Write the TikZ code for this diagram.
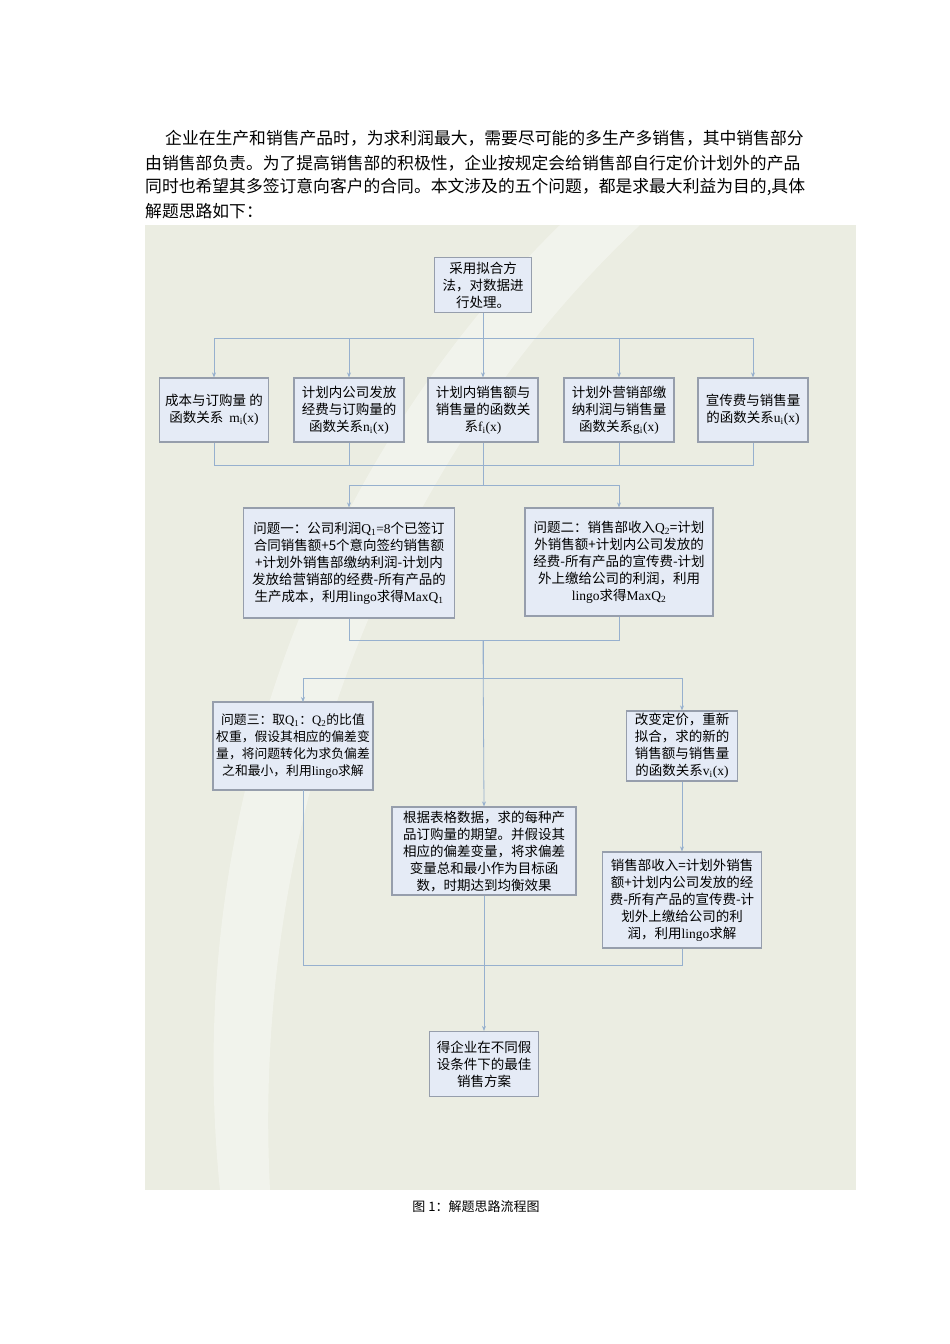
\documentclass[tikz,border=0pt]{standalone}
\usepackage{fontspec}
\setmainfont{Noto Sans CJK SC}
\newfontfamily\lat{Liberation Serif}
\begin{document}
\begin{tikzpicture}[x=1pt,y=-1pt,
 bx/.style={draw=boxline,fill=boxfill,line width=1.2pt,align=center,inner sep=0pt,font=\fontsize{13.5}{17}\selectfont},
 ln/.style={draw=lncol,line width=0.8pt},
 ar/.style={ln,-{Stealth[length=5pt,width=4pt]}},
 para/.style={anchor=west,inner sep=0pt,font=\fontsize{16.8}{20}\selectfont}]
\usetikzlibrary{arrows.meta}
\definecolor{boxfill}{RGB}{229,235,246}
\definecolor{boxline}{RGB}{150,158,172}
\definecolor{lncol}{RGB}{150,176,206}
\definecolor{bg}{RGB}{235,237,226}
\useasboundingbox (0,0) rectangle (950,1344);
\fill[white] (0,0) rectangle (950,1344);
\fill[bg] (145,225) rectangle (856,1190);
\fill[white,opacity=0.35] (560,225) .. controls (330,450) and (180,800) .. (220,1190) -- (270,1190) .. controls (250,800) and (400,450) .. (640,225) -- cycle;
\node[para] (p1) at (165,138) {企业在生产和销售产品时，为求利润最大，需要尽可能的多生产多销售，其中销售部分};
\node[para] (p2) at (145,163) {由销售部负责。为了提高销售部的积极性，企业按规定会给销售部自行定价计划外的产品};
\node[para] (p3) at (145,187) {同时也希望其多签订意向客户的合同。本文涉及的五个问题，都是求最大利益为目的,具体};
\node[para] (p4) at (145,211) {解题思路如下：};
\node[font=\fontsize{13}{16}\selectfont] (cap) at (476,1207) {图 1：解题思路流程图};

\node[bx,minimum width=97,minimum height=55] (top) at (483,285) {采用拟合方\\法，对数据进\\行处理。};
\node[bx,minimum width=109,minimum height=64] (b1) at (214,410) {成本与订购量 的\\函数关系 \ {\lat m\textsubscript{i}(x)}};
\node[bx,minimum width=110,minimum height=64] (b2) at (349,410) {计划内公司发放\\经费与订购量的\\函数关系{\lat n\textsubscript{i}(x)}};
\node[bx,minimum width=110,minimum height=64] (b3) at (483,410) {计划内销售额与\\销售量的函数关\\系{\lat f\textsubscript{i}(x)}};
\node[bx,minimum width=110,minimum height=64] (b4) at (619,410) {计划外营销部缴\\纳利润与销售量\\函数关系{\lat g\textsubscript{i}(x)}};
\node[bx,minimum width=110,minimum height=64] (b5) at (753,410) {宣传费与销售量\\的函数关系{\lat u\textsubscript{i}(x)}};
\node[bx,minimum width=211,minimum height=110] (q1) at (349,563) {问题一：公司利润{\lat Q\textsubscript{1}=8}个已签订\\合同销售额+5个意向签约销售额\\+计划外销售部缴纳利润-计划内\\发放给营销部的经费-所有产品的\\生产成本，利用{\lat lingo}求得{\lat MaxQ\textsubscript{1}}};
\node[bx,minimum width=188,minimum height=108] (q2) at (619,562) {问题二：销售部收入{\lat Q\textsubscript{2}}=计划\\外销售额+计划内公司发放的\\经费-所有产品的宣传费-计划\\外上缴给公司的利润，利用\\{\lat lingo}求得{\lat MaxQ\textsubscript{2}}};
\node[bx,minimum width=160,minimum height=88,font=\fontsize{12.8}{17}\selectfont] (q3) at (293,746) {问题三：取{\lat Q\textsubscript{1}}：{\lat Q\textsubscript{2}}的比值\\权重，假设其相应的偏差变\\量，将问题转化为求负偏差\\之和最小，利用{\lat lingo}求解};
\node[bx,minimum width=184,minimum height=88] (mid) at (484,851) {根据表格数据，求的每种产\\品订购量的期望。并假设其\\相应的偏差变量，将求偏差\\变量总和最小作为目标函\\数，时期达到均衡效果};
\node[bx,minimum width=111,minimum height=70] (v) at (682,746) {改变定价，重新\\拟合，求的新的\\销售额与销售量\\的函数关系{\lat v\textsubscript{i}(x)}};
\node[bx,minimum width=159,minimum height=96] (s) at (682,900) {销售部收入=计划外销售\\额+计划内公司发放的经\\费-所有产品的宣传费-计\\划外上缴给公司的利\\润，利用{\lat lingo}求解};
\node[bx,minimum width=109,minimum height=65] (fin) at (484,1064) {得企业在不同假\\设条件下的最佳\\销售方案};

\coordinate (r1) at (483,338);
\draw[ln] (top.south) -- (r1);
\draw[ln] (b1.north|-r1) -- (b5.north|-r1);
\foreach \b in {b1,b2,b3,b4,b5} \draw[ar] (\b.north|-r1) -- (\b.north);
\coordinate (m1) at (483,465);
\draw[ln] (b1.south) -- (b1.south|-m1) -- (b5.south|-m1) -- (b5.south);
\foreach \b in {b2,b3,b4} \draw[ln] (\b.south) -- (\b.south|-m1);
\coordinate (r2) at (483,485);
\draw[ln] (b3.south) -- (r2);
\draw[ln] (q1.north|-r2) -- (q2.north|-r2);
\draw[ar] (q1.north|-r2) -- (q1.north);
\draw[ar] (q2.north|-r2) -- (q2.north);
\coordinate (m2) at (483,640);
\draw[ln] (q1.south) -- (q1.south|-m2) -- (q2.south|-m2) -- (q2.south);
\coordinate (r3) at (483,678);
\draw[ln] (m2) -- (r3);
\draw[ln] (303,678) -- (v.north|-r3);
\coordinate (q3t) at (303,702);
\draw[ar] (303,678) -- (q3t);
\draw[ar] (v.north|-r3) -- (v.north);
\draw[ar] (m2) -- (mid.north);
\draw[ar] (v.south) -- (s.north);
\coordinate (m3) at (484,965);
\draw[ln] (303,790) -- (303,965) -- (s.south|-m3) -- (s.south);
\draw[ar] (mid.south) -- (fin.north);
\end{tikzpicture}
\end{document}
